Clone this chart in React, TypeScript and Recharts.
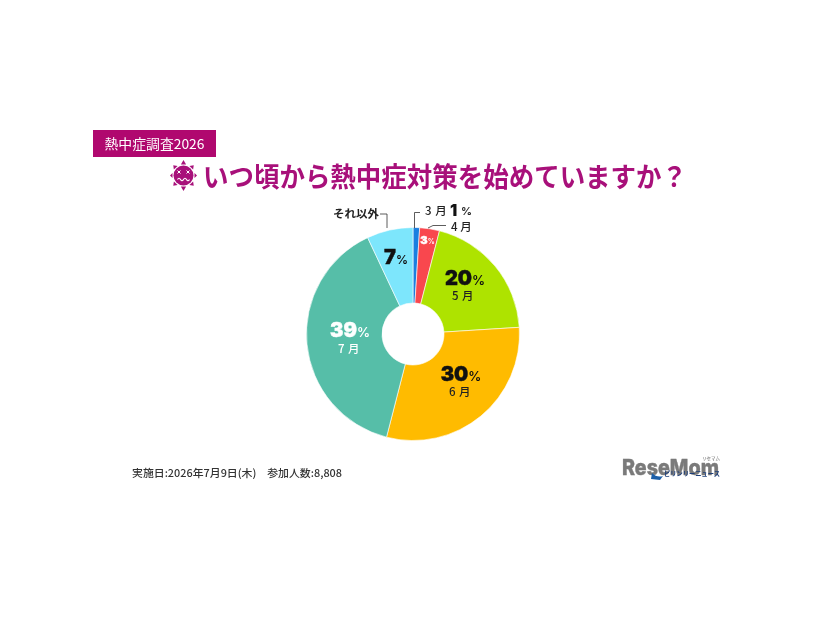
import React from "react";
import { PieChart, Pie, Cell } from "recharts";

const categories = ["3月", "4月", "5月", "6月", "7月", "それ以外"];
const shares = [1, 3, 20, 30, 39, 7];
const sliceColors = ["#1A7FE0", "#F9474E", "#AEE300", "#FFBB00", "#56BEA8", "#7DE6FC"];
const badgeText = "熱中症調査2026";
const titleText = "いつ頃から熱中症対策を始めていますか？";
const footerText = "実施日:2026年7月9日(木)　参加人数:8,808";
const logoText = "ReseMom";
const logoSubText = "リセマム";
const logoTagText = "ピリンリーニュース";

const data = categories.map((name, i) => ({ name, value: shares[i] }));
const JP = '"Noto Sans CJK JP", "Noto Sans", sans-serif';
const LAT = 'Inter, "Noto Sans CJK JP", sans-serif';
const MAGENTA = "#A8107A";

function Pct({ x, y, v, size, fill, pctSize }: { x: number; y: number; v: number; size: number; fill: string; pctSize: number }) {
  return (
    <text x={x} y={y} textAnchor="middle" fontFamily={LAT} fill={fill}>
      <tspan fontSize={size} fontWeight={900} stroke={fill} strokeWidth={0.4}>{v}</tspan>
      <tspan fontSize={pctSize} fontWeight={600}>%</tspan>
    </text>
  );
}

function Month({ x, y, t, fill = "#222" }: { x: number; y: number; t: string; fill?: string }) {
  const [d, m] = [t.slice(0, -1), t.slice(-1)];
  return (
    <text x={x} y={y} textAnchor="middle" fontFamily={JP} fontSize={11.5} fontWeight={500} fill={fill} letterSpacing={0.4}>
      {d} {m}
    </text>
  );
}

function Sun() {
  const c = { x: 183.5, y: 175.5 };
  const rays: [number, number][] = [[0, 15.5], [45, 14.5], [90, 13.5], [135, 14.5], [180, 15.5], [225, 14.5], [270, 13.5], [315, 14.5]];
  return (
    <g>
      {rays.map(([a, len]) => (
        <polygon key={a} points={`-2.6,-11 2.6,-11 0,${-len}`} fill={MAGENTA} transform={`translate(${c.x} ${c.y}) rotate(${a})`} />
      ))}
      <circle cx={c.x} cy={c.y} r={10} fill={MAGENTA} />
      <path d={`M${c.x - 6} ${c.y - 5} l3 3 m0 -3 l-3 3 M${c.x + 3} ${c.y - 5} l3 3 m0 -3 l-3 3`} stroke="#fff" strokeWidth={1} fill="none" />
      <path d={`M${c.x - 6} ${c.y + 4} q1.5 -2.5 3 0 t3 0 t3 0 t3 0`} stroke="#fff" strokeWidth={1.2} fill="none" />
    </g>
  );
}

export default function App() {
  return (
    <div style={{ position: "absolute", left: 0, top: 0, width: 826, height: 620, background: "#fff", filter: "blur(0.35px)" }}>
      <PieChart width={826} height={620} margin={{ top: 0, right: 0, bottom: 0, left: 0 }}>
        <Pie
          data={data}
          dataKey="value"
          cx={413}
          cy={334}
          innerRadius={31}
          outerRadius={106.5}
          startAngle={90}
          endAngle={-270}
          stroke="#fff"
          strokeWidth={0.6}
          isAnimationActive={false}
          label={false}
          labelLine={false}
        >
          {data.map((d, i) => (
            <Cell key={d.name} fill={sliceColors[i]} />
          ))}
        </Pie>
      </PieChart>
      <svg width={826} height={620} style={{ position: "absolute", left: 0, top: 0, pointerEvents: "none" }}>
        <rect x={93} y={130} width={123} height={27} fill="#B0086F" />
        <text x={104.5} y={148.5} fontFamily={JP} fontSize={13.2} fill="#fff" textLength={100} lengthAdjust="spacingAndGlyphs">{badgeText}</text>
        <Sun />
        <text x={203} y={187} fontFamily={JP} fontSize={27} fontWeight={700} fill={MAGENTA} textLength={484} lengthAdjust="spacingAndGlyphs">{titleText}</text>

        <text x={333} y={218} fontFamily={JP} fontSize={11} fontWeight={700} fill="#222" textLength={46} lengthAdjust="spacingAndGlyphs">{categories[5]}</text>
        <path d="M380 214 H387 V228" stroke="#333" strokeWidth={0.8} fill="none" />
        <path d="M414.5 228 V212.5 H420" stroke="#333" strokeWidth={0.8} fill="none" />
        <text x={425} y={215} fontFamily={JP} fontSize={11.5} fontWeight={500} fill="#222" letterSpacing={0.5}>3 月</text>
        <text x={450} y={215.5} fontFamily={LAT} fontSize={16} fontWeight={900} fill="#111">{shares[0]}</text>
        <text x={461} y={215} fontFamily={LAT} fontSize={11} fontWeight={600} fill="#222">%</text>
        <path d="M428 228 L433 225.5 H446" stroke="#333" strokeWidth={0.8} fill="none" />
        <text x={451} y={231} fontFamily={JP} fontSize={11.5} fontWeight={500} fill="#222">4 月</text>

        <Pct x={427.5} y={244} v={shares[1]} size={11} pctSize={7} fill="#fff" />
        <Pct x={465} y={285} v={shares[2]} size={20} pctSize={13} fill="#111" />
        <Month x={463} y={300} t={categories[2]} />
        <Pct x={461} y={381} v={shares[3]} size={20} pctSize={13} fill="#111" />
        <Month x={460} y={396} t={categories[3]} />
        <Pct x={350} y={337} v={shares[4]} size={20} pctSize={13} fill="#fff" />
        <Month x={349} y={353} t={categories[4]} fill="#fff" />
        <Pct x={396} y={264} v={shares[5]} size={20} pctSize={12} fill="#111" />

        <text x={132} y={477} fontFamily={JP} fontSize={10.5} fontWeight={500} fill="#333" textLength={210} lengthAdjust="spacingAndGlyphs">{footerText}</text>

        <text x={622} y={475} fontFamily={LAT} fontSize={22} fontWeight={800} fill="#7A7A7A" stroke="#7A7A7A" strokeWidth={0.4} textLength={97} lengthAdjust="spacingAndGlyphs">{logoText}</text>
        <text x={702} y={460} fontFamily={JP} fontSize={4.5} fill="#666">{logoSubText}</text>
        <text x={664} y={476} fontFamily={JP} fontSize={6.5} fontWeight={700} fill="#1D3F7A" textLength={56} lengthAdjust="spacingAndGlyphs">{logoTagText}</text>
        <path d="M652 473 q5 5 11 3 l-3 4 l-9 -1 z" fill="#1D5FA8" />
      </svg>
    </div>
  );
}
